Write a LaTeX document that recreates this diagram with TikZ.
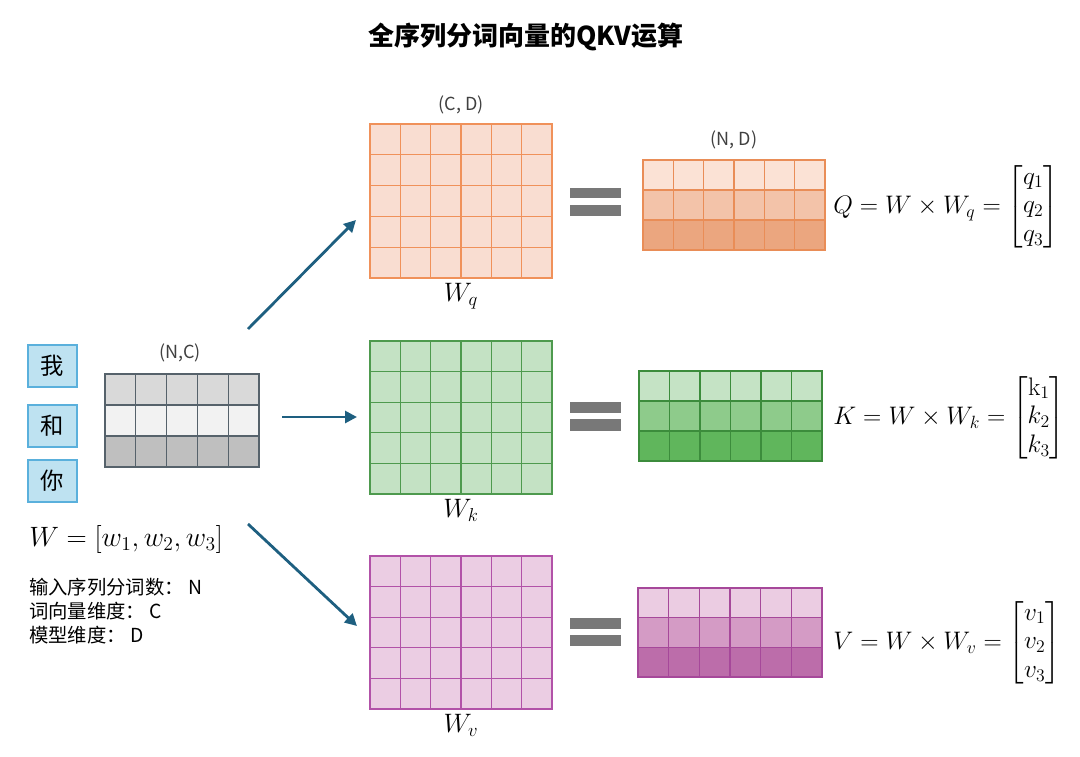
\RequirePackage{fix-cm}
\documentclass[tikz,border=0pt]{standalone}
\usepackage{amsmath}
\usepackage{fontspec}
\newfontfamily\cjk{Noto Sans CJK SC}
\usetikzlibrary{arrows.meta}
\definecolor{wfill}{HTML}{BEE2F1}
\definecolor{wborder}{HTML}{5AB0DC}
\definecolor{gborder}{HTML}{56626B}
\definecolor{gA}{HTML}{D9D9D9}
\definecolor{gB}{HTML}{F2F2F2}
\definecolor{gC}{HTML}{BFBFBF}
\definecolor{oborder}{HTML}{F0915A}
\definecolor{ofill}{HTML}{F9DDD1}
\definecolor{oA}{HTML}{FBE2D5}
\definecolor{oB}{HTML}{F3C3A9}
\definecolor{oC}{HTML}{EBA67F}
\definecolor{ogrid}{HTML}{E98D57}
\definecolor{kborder}{HTML}{4E9A4E}
\definecolor{kfill}{HTML}{C4E2C4}
\definecolor{kA}{HTML}{C5E3C5}
\definecolor{kB}{HTML}{8ECB8B}
\definecolor{kC}{HTML}{60B65C}
\definecolor{kgrid}{HTML}{3C8C3C}
\definecolor{vborder}{HTML}{B252A8}
\definecolor{vfill}{HTML}{EBCDE3}
\definecolor{vA}{HTML}{EBCCE2}
\definecolor{vB}{HTML}{D49BC5}
\definecolor{vC}{HTML}{BC6DAA}
\definecolor{vgrid}{HTML}{A6489A}
\definecolor{arrcol}{HTML}{1E5F80}
\definecolor{eqgray}{HTML}{787878}
\newcommand\cellgrid[8]{%
 \foreach \f [count=\r from 0] in {#8}{\fill[\f] (#1,{#2+\r*#6}) rectangle ({#1+#3*#5},{#2+(\r+1)*#6});}
 \foreach \c in {0,...,#3}{\draw[#7,line width=0.95pt,line cap=rect] ({#1+\c*#5},#2) -- ({#1+\c*#5},{#2+#4*#6});}
 \foreach \r in {0,...,#4}{\draw[#7,line width=0.95pt,line cap=rect] (#1,{#2+\r*#6}) -- ({#1+#3*#5},{#2+\r*#6});}
}
\tikzset{
  wbox/.style={draw=wborder,fill=wfill,line width=1pt,minimum width=36.75pt,minimum height=31.5pt,inner sep=0pt,font=\cjk\fontsize{17.5}{18}\selectfont},
  dimlabel/.style={font=\cjk\fontsize{13.5}{15}\selectfont,text=black!75,inner sep=0pt},
  info/.style={anchor=west,font=\cjk\fontsize{14.5}{17}\selectfont,inner sep=0pt},
  mathlab/.style={font=\fontsize{20}{22}\selectfont,inner sep=0pt},
  formula/.style={anchor=west,font=\fontsize{19}{21.5}\selectfont,inner sep=0pt},
  arr/.style={draw=arrcol,line width=2.1pt,-{Triangle[length=9pt,width=9pt]}}
}
\begin{document}
\begin{tikzpicture}[x=0.75pt,y=-0.75pt]
\useasboundingbox (0,0) rectangle (1080,756);
% title
\node[font=\cjk\bfseries\fontsize{19.5}{24}\selectfont] (title) at (526,37) {全序列分词向量的QKV运算};
% word boxes
\node[wbox] (w1) at (52.5,366) {我};
\node[wbox] (w2) at (52.5,426) {和};
\node[wbox] (w3) at (52.5,481) {你};
% input matrix
\node[dimlabel] (nc) at (180,353) {(N,C)};
\cellgrid{105}{374}{5}{3}{30.8}{31}{gborder}{gA,gB,gC}
\node[anchor=west,font=\fontsize{21}{24}\selectfont,inner sep=0pt] (weq) at (29,539) {$W=[w_1,w_2,w_3]$};
\node[info] (i1) at (29,587) {输入序列分词数： N};
\node[info] (i2) at (29,611) {词向量维度： C};
\node[info] (i3) at (29,635) {模型维度： D};
% weight matrices
\node[dimlabel] (cd) at (461,105) {(C, D)};
\cellgrid{370}{124}{6}{5}{30.33}{30.8}{oborder}{ofill,ofill,ofill,ofill,ofill}
\node[mathlab,anchor=north] (lq) at (461,283) {$W_q$};
\cellgrid{370}{341}{6}{5}{30.33}{30.6}{kborder}{kfill,kfill,kfill,kfill,kfill}
\node[mathlab,anchor=north] (lk) at (461,499) {$W_k$};
\cellgrid{370}{556}{6}{5}{30.33}{30.6}{vborder}{vfill,vfill,vfill,vfill,vfill}
\node[mathlab,anchor=north] (lv) at (461,714) {$W_v$};
% arrows
\coordinate (aq0) at (248,329); \coordinate (aq1) at (356,220);
\coordinate (ak0) at (282,417); \coordinate (ak1) at (357,417);
\coordinate (av0) at (248,524); \coordinate (av1) at (357,626);
\draw[arr] (aq0) -- (aq1);
\draw[arr] (ak0) -- (ak1);
\draw[arr] (av0) -- (av1);
% equal signs
\fill[eqgray] (570,188) rectangle (621,198);
\fill[eqgray] (570,205) rectangle (621,216);
\fill[eqgray] (570,402) rectangle (621,413);
\fill[eqgray] (570,419) rectangle (621,431);
\fill[eqgray] (570,618) rectangle (621,629);
\fill[eqgray] (570,635) rectangle (621,646);
% results
\node[dimlabel] (nd) at (734,140) {(N, D)};
\cellgrid{643}{160}{6}{3}{30.33}{30}{ogrid}{oA,oB,oC}
\cellgrid{639}{371}{6}{3}{30.5}{30}{kgrid}{kA,kB,kC}
\cellgrid{638}{588}{6}{3}{30.67}{29.7}{vgrid}{vA,vB,vC}
% formulas
\node[formula] (fq) at (833,207) {$Q = W \times W_q = \begin{bmatrix} q_1\\ q_2\\ q_3\end{bmatrix}$};
\node[formula] (fk) at (833,418) {$K = W \times W_k = \begin{bmatrix} \mathrm{k}_1\\ k_2\\ k_3\end{bmatrix}$};
\node[formula] (fv) at (833,643) {$V = W \times W_v = \begin{bmatrix} v_1\\ v_2\\ v_3\end{bmatrix}$};
\end{tikzpicture}
\end{document}
